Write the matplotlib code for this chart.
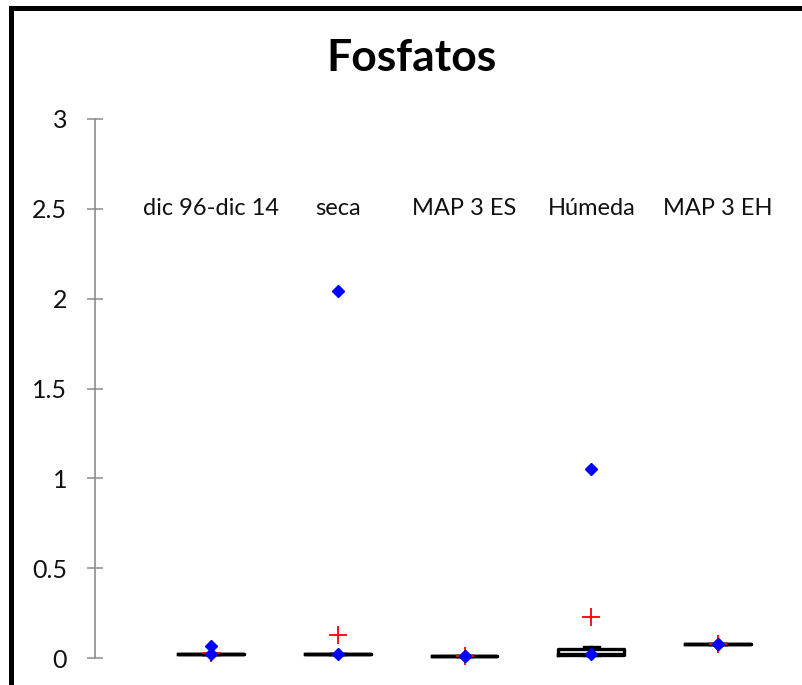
import matplotlib
matplotlib.use("Agg")
import matplotlib.pyplot as plt
from matplotlib.patches import Rectangle

plt.rcParams['font.family'] = ['Lato', 'DejaVu Sans']

# Phosphate summary statistics per period / season
categories = ['dic 96-dic 14', 'seca', 'MAP 3 ES', 'Húmeda', 'MAP 3 EH']
q1 = [0.020, 0.020, 0.011, 0.018, 0.077]
median = [0.022, 0.022, 0.012, 0.020, 0.078]
q3 = [0.024, 0.024, 0.013, 0.050, 0.079]
whisker_low = [0.020, 0.020, 0.011, 0.018, 0.077]
whisker_high = [0.024, 0.024, 0.013, 0.062, 0.079]
minimum = [0.022, 0.022, 0.012, 0.020, 0.078]
maximum = [0.067, 2.043, 0.012, 1.052, 0.078]
mean = [0.027, 0.128, 0.012, 0.228, 0.078]
yticks = [0, 0.5, 1, 1.5, 2, 2.5, 3]
ytick_labels = ['0', '0.5', '1', '1.5', '2', '2.5', '3']

W, H = 802, 685
fig = plt.figure(figsize=(W / 100, H / 100), dpi=100)
fig.patch.set_facecolor('white')

# plot area: y axis at x=95 px, value 0 at y=658 px, value 3 at y=119 px
ax = fig.add_axes([95 / W, 0, (W - 95) / W, (H - 119) / H])
ppu_y = (658 - 119) / 3.0
ppu_x = 126.75
ax.set_ylim(-(H - 658) / ppu_y, 3)
ax.set_xlim(1 - (211 - 95) / ppu_x, 1 + (W - 211) / ppu_x)
ax.patch.set_alpha(0)

positions = list(range(1, len(categories) + 1))
stats = []
for i, c in enumerate(categories):
    stats.append(dict(label=c, med=median[i], q1=q1[i], q3=q3[i],
                      whislo=whisker_low[i], whishi=whisker_high[i], fliers=[]))

line = dict(color='black', linewidth=2.4)
ax.bxp(stats, positions=positions, widths=0.52, showfliers=False,
       boxprops=line, medianprops=line, whiskerprops=line, capprops=line,
       capwidths=0.12, manage_ticks=False)

ax.plot(positions, mean, linestyle='none', marker='+', color='#ff0000',
        markersize=13, markeredgewidth=1.3, zorder=4)
ax.plot(positions, minimum, linestyle='none', marker='D', color='#0000ff',
        markersize=6.5, zorder=5)
ax.plot(positions, maximum, linestyle='none', marker='D', color='#0000ff',
        markersize=6.5, zorder=5)

for p, c in zip(positions, categories):
    ax.text(p, 2.5, c, ha='center', va='center', fontsize=17, color='#111111')

for s in ['top', 'right', 'bottom']:
    ax.spines[s].set_visible(False)
ax.spines['left'].set_color('#8c8c8c')
ax.spines['left'].set_linewidth(1.2)
ax.spines['left'].set_bounds(0, 3)
ax.set_yticks(yticks)
ax.set_yticklabels(ytick_labels)
ax.set_xticks([])
ax.tick_params(axis='y', direction='inout', length=12, width=1.1,
               color='#8c8c8c', pad=14, labelsize=18, labelcolor='#111111')

fig.text(412 / W, 1 - 58 / H, 'Fosfatos', ha='center', va='center',
         fontsize=32, fontweight='bold', color='black')

# outer chart frame
fig.add_artist(Rectangle((10.5 / W, -0.2), 2.0, (H - 7.5) / H + 0.2,
                         transform=fig.transFigure, fill=False,
                         edgecolor='black', linewidth=3.6))

fig.savefig('out.png', dpi=100)
